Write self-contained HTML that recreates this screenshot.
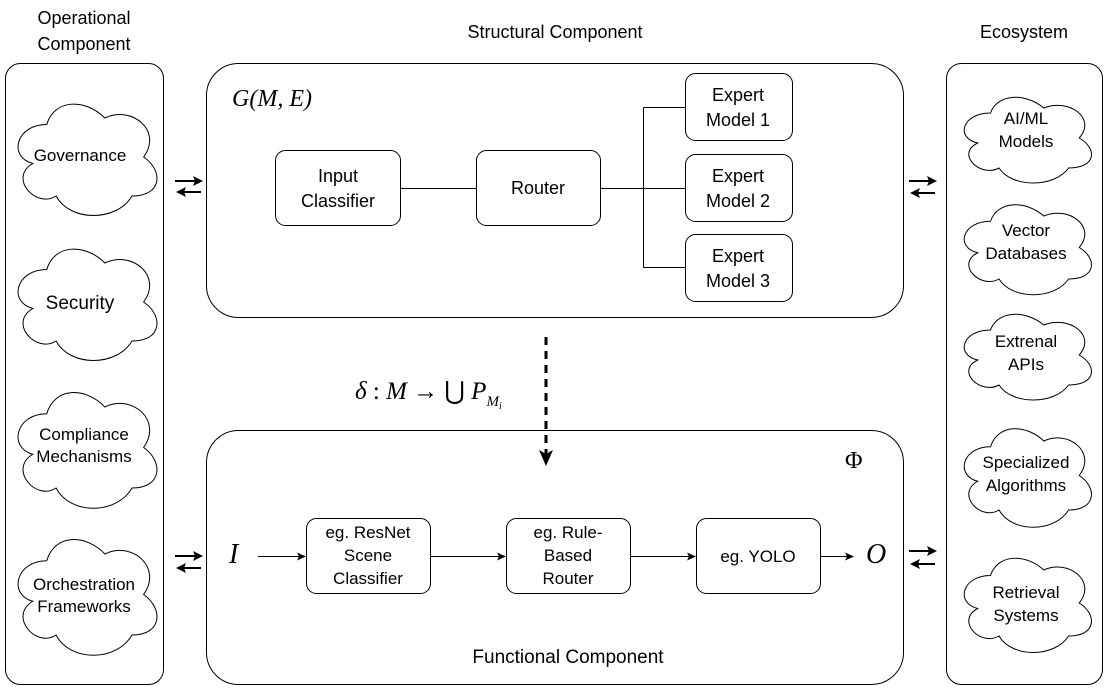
<!DOCTYPE html>
<html><head><meta charset="utf-8"><style>
body{margin:0;background:#fff}
svg{display:block}
text{font-family:"Liberation Sans",sans-serif;fill:#000}
.m{font-family:"Liberation Serif",serif;font-style:italic}
</style></head><body>
<svg width="1107" height="698" viewBox="0 0 1107 698" xmlns="http://www.w3.org/2000/svg">
<defs>
<symbol id="cl" viewBox="0 0 120 80" preserveAspectRatio="none">
<path d="M30,20 C6,20 0,40 19.2,44 C0,52.8 21.6,72 37.2,64 C48,80 84,80 96,64 C120,64 120,48 105,40 C120,24 96,8 75,16 C60,4 36,4 30,20Z" fill="#fff" stroke="#000" stroke-width="1" vector-effect="non-scaling-stroke"/>
</symbol>
</defs>
<g font-size="18" text-anchor="middle">
<text x="84" y="24">Operational</text><text x="84" y="50">Component</text>
<text x="555" y="38">Structural Component</text>
<text x="1024" y="38">Ecosystem</text>
</g>
<g fill="none" stroke="#000" stroke-width="1">
<rect x="5.5" y="63.5" width="158" height="621" rx="15"/>
<rect x="946.5" y="63.5" width="156" height="621" rx="15"/>
<rect x="206.5" y="63.5" width="697" height="254" rx="32"/>
<rect x="206.5" y="430.5" width="697" height="254" rx="32"/>
<rect x="275.5" y="150.5" width="125" height="75" rx="10"/>
<rect x="476.5" y="150.5" width="124" height="75" rx="10"/>
<rect x="685.5" y="73.5" width="107" height="67" rx="10"/>
<rect x="685.5" y="154.5" width="107" height="67" rx="10"/>
<rect x="685.5" y="234.5" width="107" height="67" rx="10"/>
<path d="M400.5,188.5H476.5M600.5,188.5H643.5M643.5,107.5V267.5M643.5,107.5H685.5M643.5,188.5H685.5M643.5,267.5H685.5"/>
<rect x="306.5" y="518.5" width="124" height="75" rx="10"/>
<rect x="506.5" y="518.5" width="124" height="75" rx="10"/>
<rect x="696.5" y="518.5" width="124" height="75" rx="10"/>
<path d="M258,556.5H300M431,556.5H500M631,556.5H690M821,556.5H848"/>
<path d="M546,337V458" stroke-width="3" stroke-dasharray="8,6"/>
</g>
<g fill="#000">
<path d="M306,556.5l-9,-4l2,4l-2,4Z"/>
<path d="M506,556.5l-9,-4l2,4l-2,4Z"/>
<path d="M696,556.5l-9,-4l2,4l-2,4Z"/>
<path d="M854,556.5l-9,-4l2,4l-2,4Z"/>
<path d="M539,450 L546,466 L553,450 L546,454Z"/>
</g>
<g stroke="#000" stroke-width="2" fill="none">
<path d="M175,181H196M178,192H201"/>
<path d="M175,556H196M178,568H201"/>
<path d="M909,181H930M912,193H935"/>
<path d="M909,551H930M912,564H935"/>
</g>
<g fill="#000">
<path d="M203,181l-10,-5l2,5l-2,5Z M176,192l10,-5l-2,5l2,5Z"/>
<path d="M203,556l-10,-5l2,5l-2,5Z M176,568l10,-5l-2,5l2,5Z"/>
<path d="M937,181l-10,-5l2,5l-2,5Z M910,193l10,-5l-2,5l2,5Z"/>
<path d="M937,551l-10,-5l2,5l-2,5Z M910,564l10,-5l-2,5l2,5Z"/>
</g>
<use href="#cl" x="8" y="92" width="155" height="130"/>
<use href="#cl" x="8" y="237" width="155" height="130"/>
<use href="#cl" x="8" y="380" width="155" height="135"/>
<use href="#cl" x="8" y="527" width="155" height="135"/>
<use href="#cl" x="955" y="88" width="142" height="100"/>
<use href="#cl" x="955" y="195" width="142" height="105"/>
<use href="#cl" x="955" y="305" width="142" height="100"/>
<use href="#cl" x="955" y="418" width="142" height="115"/>
<use href="#cl" x="955" y="548" width="142" height="110"/>
<g font-size="17" text-anchor="middle">
<text x="80" y="161">Governance</text>
<text x="80" y="309" font-size="19">Security</text>
<text x="84" y="440">Compliance</text><text x="84" y="462">Mechanisms</text>
<text x="84" y="590">Orchestration</text><text x="84" y="612">Frameworks</text>
<text x="1026" y="124">AI/ML</text><text x="1026" y="147">Models</text>
<text x="1026" y="236">Vector</text><text x="1026" y="259">Databases</text>
<text x="1026" y="347">Extrenal</text><text x="1026" y="370">APIs</text>
<text x="1026" y="468">Specialized</text><text x="1026" y="491">Algorithms</text>
<text x="1026" y="598">Retrieval</text><text x="1026" y="621">Systems</text>
<text x="338" y="182" font-size="18">Input</text><text x="338" y="207" font-size="18">Classifier</text>
<text x="538" y="194" font-size="18">Router</text>
<text x="738" y="101" font-size="18">Expert</text><text x="738" y="126" font-size="18">Model 1</text>
<text x="738" y="182" font-size="18">Expert</text><text x="738" y="207" font-size="18">Model 2</text>
<text x="738" y="262" font-size="18">Expert</text><text x="738" y="287" font-size="18">Model 3</text>
<text x="368" y="538">eg. ResNet</text><text x="368" y="561">Scene</text><text x="368" y="584">Classifier</text>
<text x="568" y="538">eg. Rule-</text><text x="568" y="561">Based</text><text x="568" y="584">Router</text>
<text x="758" y="562">eg. YOLO</text>
<text x="568" y="663" font-size="19">Functional Component</text>
</g>
<text class="m" x="232" y="106" font-size="24">G(M, E)</text>
<text class="m" x="229" y="563" font-size="28">I</text>
<text class="m" x="866" y="563" font-size="28">O</text>
<text x="845" y="468" font-size="24" style="font-family:'Liberation Serif',serif">Φ</text>
<text x="355" y="399" font-size="25" style="font-family:'Liberation Serif',serif"><tspan font-style="italic">δ</tspan> : <tspan font-style="italic">M</tspan> → ⋃ <tspan font-style="italic">P</tspan><tspan font-style="italic" font-size="15" dy="7">M</tspan><tspan font-style="italic" font-size="10" dy="3">i</tspan></text>
</svg>
</body></html>
